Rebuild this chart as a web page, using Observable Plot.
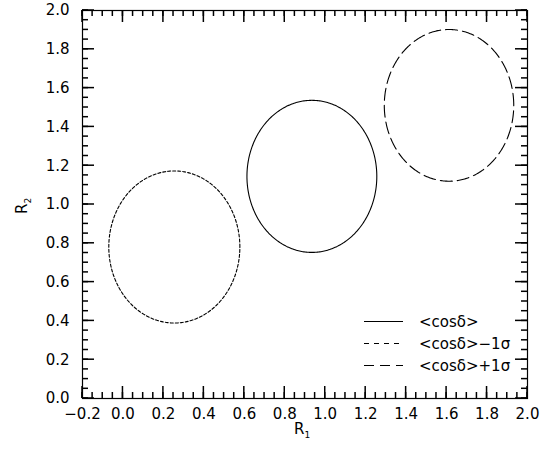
<!DOCTYPE html>
<html>
<head>
<meta charset="utf-8">
<script src="https://cdn.jsdelivr.net/npm/d3@7"></script>
<script src="https://cdn.jsdelivr.net/npm/@observablehq/plot@0.6"></script>
<style>
  html, body { margin: 0; padding: 0; background: white; }
</style>
</head>
<body>
<div id="chart"></div>
<script>
// ---- data ----
const seriesNames = ["<cosδ>", "<cosδ>−1σ", "<cosδ>+1σ"];
const centerR1 = [0.934, 0.254, 1.612];
const centerR2 = [1.145, 0.781, 1.511];
const halfWidthR1 = [0.321, 0.324, 0.320];
const halfWidthR2 = [0.392, 0.392, 0.391];
const xTickLabels = [-0.2, 0.0, 0.2, 0.4, 0.6, 0.8, 1.0, 1.2, 1.4, 1.6, 1.8, 2.0];
const yTickLabels = [0.0, 0.2, 0.4, 0.6, 0.8, 1.0, 1.2, 1.4, 1.6, 1.8, 2.0];

// ---- styles ----
const dashes = [null, "3,2", "12,5"];
const legendDashes = [null, "5,5", "10,6"];

// ellipse outlines (geometry from centre + half-widths)
const points = [];
seriesNames.forEach((name, i) => {
  for (let k = 0; k <= 360; k++) {
    const t = k * Math.PI / 180;
    points.push({series: name,
      x: centerR1[i] + halfWidthR1[i] * Math.cos(t),
      y: centerR2[i] + halfWidthR2[i] * Math.sin(t)});
  }
});

const W = 549, H = 453, mL = 82, mR = 22, mT = 10, mB = 55;
const xDom = [-0.2, 2.0], yDom = [0, 2.0];
const minorX = d3.range(-0.2, 2.0001, 0.05);
const minorY = d3.range(0, 2.0001, 0.05);
const fmt = d3.format(".1f");
const majLen = 12, minLen = 6;

const lineMarks = seriesNames.map((name, i) =>
  Plot.line(points.filter(p => p.series === name), {
    x: "x", y: "y", stroke: "black", strokeWidth: 1.1,
    strokeDasharray: dashes[i] || undefined
  }));

const svg = Plot.plot({
  width: W, height: H,
  marginLeft: mL, marginRight: mR, marginTop: mT, marginBottom: mB,
  style: {fontFamily: "'DejaVu Sans', sans-serif", fontSize: "15px", color: "black", background: "white"},
  x: {domain: xDom},
  y: {domain: yDom},
  marks: [
    Plot.axisX({ticks: xTickLabels, tickSize: 0, tickPadding: 10, tickFormat: fmt, label: null}),
    Plot.axisY({ticks: yTickLabels, tickSize: 0, tickPadding: 13, tickFormat: fmt, label: null}),
    ...lineMarks,
    Plot.frame({stroke: "black", strokeWidth: 1.2})
  ]
});

const s = d3.select(svg);
const xs = svg.scale("x"), ys = svg.scale("y");
const px0 = xs.apply(xDom[0]), px1 = xs.apply(xDom[1]);
const py0 = ys.apply(yDom[0]), py1 = ys.apply(yDom[1]);

// inward ticks on all four sides, placed through the plot's scales
const tg = s.append("g").attr("stroke", "black").attr("stroke-width", 1.5);
function drawX(arr, len) {
  arr.forEach(v => {
    const px = xs.apply(v);
    tg.append("line").attr("x1", px).attr("x2", px).attr("y1", py0).attr("y2", py0 - len);
    tg.append("line").attr("x1", px).attr("x2", px).attr("y1", py1).attr("y2", py1 + len);
  });
}
function drawY(arr, len) {
  arr.forEach(v => {
    const py = ys.apply(v);
    tg.append("line").attr("y1", py).attr("y2", py).attr("x1", px0).attr("x2", px0 + len);
    tg.append("line").attr("y1", py).attr("y2", py).attr("x1", px1).attr("x2", px1 - len);
  });
}
drawX(minorX, minLen); drawY(minorY, minLen);
drawX(xTickLabels, majLen); drawY(yTickLabels, majLen);

// axis labels with subscripts
const r1 = s.append("text").attr("x", 294).attr("y", 434).attr("text-anchor", "start")
  .attr("font-family", "'DejaVu Sans', sans-serif").attr("font-size", 15).attr("fill", "black");
r1.append("tspan").text("R");
r1.append("tspan").attr("font-size", 9).attr("dy", 4).text("1");

const r2 = s.append("text").attr("transform", "translate(27,214) rotate(-90)").attr("text-anchor", "start")
  .attr("font-family", "'DejaVu Sans', sans-serif").attr("font-size", 15).attr("fill", "black");
r2.append("tspan").text("R");
r2.append("tspan").attr("font-size", 9).attr("dy", 4).text("2");

// legend
const legendY = [321.5, 343.5, 365.5];
seriesNames.forEach((name, i) => {
  const l = s.append("line").attr("x1", 364).attr("x2", 403)
    .attr("y1", legendY[i]).attr("y2", legendY[i])
    .attr("stroke", "black").attr("stroke-width", 1.1);
  if (legendDashes[i]) l.attr("stroke-dasharray", legendDashes[i]);
  s.append("text").attr("x", 419).attr("y", legendY[i]).attr("dy", "0.35em")
    .attr("text-anchor", "start")
    .attr("font-family", "'DejaVu Sans', sans-serif").attr("font-size", 15)
    .attr("fill", "black").text(name);
});

document.getElementById("chart").appendChild(svg);
</script>
</body>
</html>
